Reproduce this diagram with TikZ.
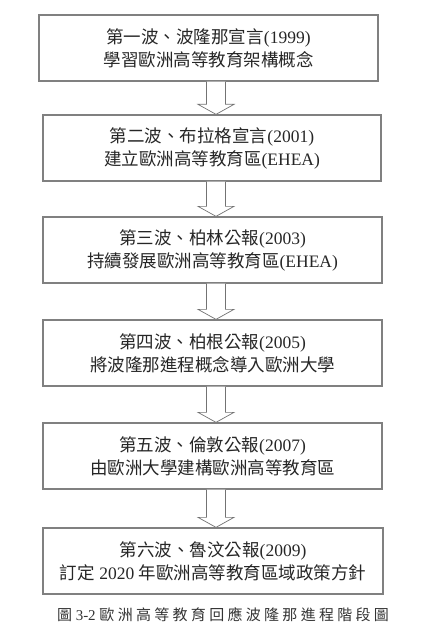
\documentclass[tikz,border=0pt]{standalone}
\usepackage{fontspec}
\setmainfont{Liberation Serif}
\newfontfamily\cjk{Noto Sans CJK TC}
\newfontfamily\cjkcap[LetterSpace=22]{Noto Sans CJK TC}
\usetikzlibrary{calc}
\begin{document}
\begin{tikzpicture}[x=1pt,y=-1pt,
  stagebox/.style={draw=black!50, line width=1.3pt, minimum height=66pt,
    align=center, inner sep=0pt, font=\fontsize{17.5}{23}\selectfont, text=black!85},
  flowarrow/.style={draw=black!55, line width=0.7pt, fill=white}]
\useasboundingbox (0,0) rectangle (444,631);
\node[stagebox, minimum width=339pt] (b1) at (208.5,48) {{\cjk 第一波、波隆那宣言}(1999)\\{\cjk 學習歐洲高等教育架構概念}};
\node[stagebox, minimum width=338pt] (b2) at (212,148) {{\cjk 第二波、布拉格宣言}(2001)\\{\cjk 建立歐洲高等教育區}(EHEA)};
\node[stagebox, minimum width=339pt] (b3) at (212.5,250) {{\cjk 第三波、柏林公報}(2003)\\{\cjk 持續發展歐洲高等教育區}(EHEA)};
\node[stagebox, minimum width=339pt] (b4) at (212.5,353) {{\cjk 第四波、柏根公報}(2005)\\{\cjk 將波隆那進程概念導入歐洲大學}};
\node[stagebox, minimum width=339pt] (b5) at (212.5,456) {{\cjk 第五波、倫敦公報}(2007)\\{\cjk 由歐洲大學建構歐洲高等教育區}};
\node[stagebox, minimum width=340pt] (b6) at (213,561) {{\cjk 第六波、魯汶公報}(2009)\\{\cjk 訂定} 2020 {\cjk 年歐洲高等教育區域政策方針}};
\coordinate (ax) at (216,0);
\foreach \a/\b in {b1/b2,b2/b3,b3/b4,b4/b5,b5/b6}{
  \draw[flowarrow] ($(ax |- \a.south)+(-9.5,0)$) -- ($(ax |- \b.north)+(-9.5,-10)$)
    -- ($(ax |- \b.north)+(-18,-10)$) -- (ax |- \b.north) -- ($(ax |- \b.north)+(18,-10)$)
    -- ($(ax |- \b.north)+(9.5,-10)$) -- ($(ax |- \a.south)+(9.5,0)$);
}
\node[font=\fontsize{15}{18}\selectfont, text=black!80, inner sep=0pt] (cap) at (223,615) {{\cjk 圖} 3-2 {\cjkcap 歐洲高等教育回應波隆那進程階段圖}};
\end{tikzpicture}
\end{document}
